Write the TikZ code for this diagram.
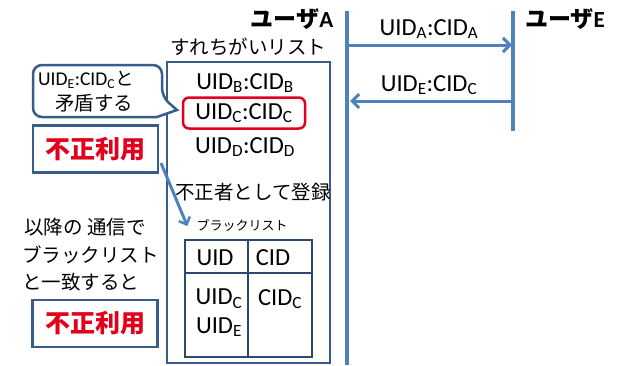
\documentclass[tikz,border=0pt]{standalone}
\usepackage{fontspec}
\setmainfont{Carlito}
\newfontfamily\jp{Noto Sans CJK JP}
\usetikzlibrary{arrows.meta}
\definecolor{lifeblue}{HTML}{4F81BD}
\definecolor{boxblue}{HTML}{385D8A}
\definecolor{tblblue}{HTML}{2C4A70}
\definecolor{alertred}{HTML}{E3001B}
\newcommand{\subx}[1]{\textsubscript{#1}}
\tikzset{
  lbl/.style={inner sep=0pt, font=\fontsize{24.5}{28}\selectfont},
  jlbl/.style={inner sep=0pt, font=\jp\fontsize{19.5}{23}\selectfont},
  life/.style={draw=lifeblue, line width=3.5pt},
  msg/.style={draw=lifeblue, line width=3pt, -{Straight Barb[length=7pt,width=14pt,line width=3pt]}},
  bluebox/.style={draw=boxblue, line width=2.5pt, inner sep=0pt},
  alert/.style={inner sep=0pt, text=alertred, font=\jp\bfseries\fontsize{25}{28}\selectfont},
}
\begin{document}
\begin{tikzpicture}[x=1pt,y=-1pt]
\useasboundingbox (0,0) rectangle (617,365);
% lifelines
\coordinate (Atop) at (347,11);
\coordinate (Abot) at (347,365);
\coordinate (Etop) at (513,11);
\coordinate (Ebot) at (513,131);
\draw[life] (Atop) -- (Abot);
\draw[life] (Etop) -- (Ebot);
\node[inner sep=0pt, font=\jp\bfseries\fontsize{23}{26}\selectfont] (userA) at (292,19) {ユーザ{\rmfamily\bfseries A}};
\node[inner sep=0pt, font=\jp\bfseries\fontsize{23}{26}\selectfont] (userE) at (565,19) {ユーザ{\rmfamily\bfseries E}};
% messages
\coordinate (a1) at (349,45);
\coordinate (e1) at (512,45);
\coordinate (e2) at (511,101);
\coordinate (a2) at (350,101);
\draw[msg] (a1) -- (e1);
\draw[msg] (e2) -- (a2);
\node[lbl] (m1) at (429,29) {UID\subx{A}:CID\subx{A}};
\node[lbl] (m2) at (429,85) {UID\subx{E}:CID\subx{C}};
% passing list
\node[jlbl] (sltitle) at (248,47) {すれちがいリスト};
\node[bluebox, minimum width=163pt, minimum height=301pt] (slist) at (248.5,212.5) {};
\node[lbl] (rowB) at (245,83) {UID\subx{B}:CID\subx{B}};
\node[lbl, draw=alertred, line width=2.5pt, rounded corners=6pt, minimum width=122pt, minimum height=31pt] (rowC) at (244,113) {UID\subx{C}:CID\subx{C}};
\node[lbl] (rowD) at (245,147) {UID\subx{D}:CID\subx{D}};
\node[jlbl] (reg) at (253,192) {不正者として登録};
\node[inner sep=0pt, font=\jp\fontsize{13}{15}\selectfont] (bl) at (242,225) {ブラックリスト};
% blacklist table
\node[draw=tblblue, line width=2.5pt, inner sep=0pt, minimum width=127pt, minimum height=117pt] (tbl) at (248.5,298.5) {};
\coordinate (vt) at (248,240);
\coordinate (vb) at (248,357);
\coordinate (hl) at (185,273);
\coordinate (hr) at (312,273);
\draw[draw=tblblue, line width=2.5pt] (vt) -- (vb);
\draw[draw=tblblue, line width=2.5pt] (hl) -- (hr);
\node[lbl] (hUID) at (215,258) {UID};
\node[lbl] (hCID) at (273,258) {CID};
\node[lbl] (cU1) at (219,299) {UID\subx{C}};
\node[lbl] (cU2) at (219,327) {UID\subx{E}};
\node[lbl] (cC1) at (280,299) {CID\subx{C}};
% callout
\draw[draw=boxblue, line width=2.5pt, fill=white]
  (33,91) [rounded corners=9pt] -- (33,65) -- (162,65) -- (162,97)
  [sharp corners] -- (177,110) -- (157,117)
  [rounded corners=9pt] -- (33,117) -- (33,91);
\node[inner sep=0pt, font=\fontsize{19.5}{23}\selectfont, anchor=west] (co1) at (38,80) {UID\subx{E}:CID\subx{C}{\jp\fontsize{18.5}{22}\selectfont と}};
\node[jlbl] (co2) at (94,103) {矛盾する};
% fraud boxes
\node[bluebox, minimum width=125pt, minimum height=47pt] (f1) at (95.5,149) {};
\node[alert] (f1t) at (f1) {不正利用};
\coordinate (arrs) at (161,163);
\draw[draw=lifeblue, line width=3pt, -{Straight Barb[length=6pt,width=12pt,line width=2.5pt]}] (arrs) -- ([xshift=-9pt,yshift=-1pt]bl.west);
\node[jlbl, anchor=west] (n1) at (24,227) {以降の 通信で};
\node[jlbl, anchor=west] (n2) at (22,255) {ブラックリスト};
\node[jlbl, anchor=west] (n3) at (22,282) {と一致すると};
\node[bluebox, minimum width=125pt, minimum height=47pt] (f2) at (95,323.5) {};
\node[alert] (f2t) at (f2) {不正利用};
\end{tikzpicture}
\end{document}
